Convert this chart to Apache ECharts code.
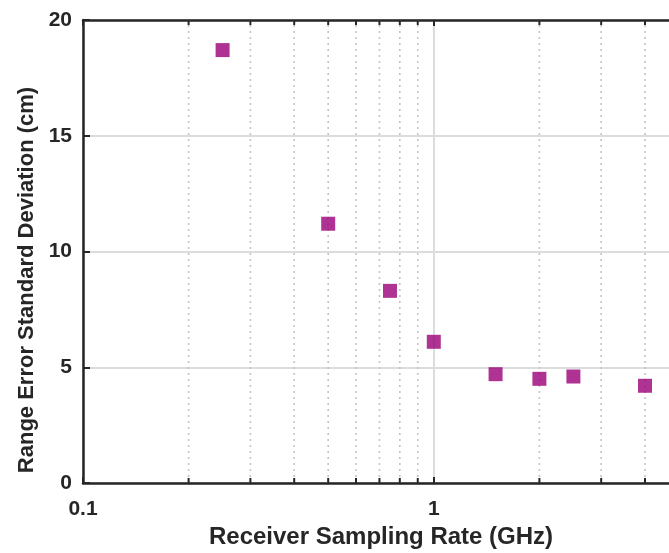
<!DOCTYPE html>
<html><head><meta charset="utf-8">
<script src="https://cdn.jsdelivr.net/npm/echarts@6/dist/echarts.min.js"></script>
<style>html,body{margin:0;padding:0;background:#fff}#c{width:669px;height:553px}</style>
</head><body><div id="c"></div>
<script>
const rates = [0.25, 0.5, 0.75, 1.0, 1.5, 2.0, 2.5, 4.0];
const stdDev = [18.7, 11.2, 8.3, 6.1, 4.7, 4.5, 4.6, 4.2];
const minorXTicks = [0.2, 0.3, 0.4, 0.5, 0.6, 0.7, 0.8, 0.9, 2, 3, 4];
const xTickLabels = ['0.1', '1'];
const yMin = 0, yMax = 20, yStep = 5;
const xMin = 0.1, xMax = 5;

const FONT = '"Liberation Sans", Arial, sans-serif';
const INK = '#262626';
const chart = echarts.init(document.getElementById('c'), null, {renderer: 'canvas'});

const axisCommon = {
  type: 'log', logBase: 10, min: xMin, max: xMax,
  axisLine: {show: true, lineStyle: {color: INK, width: 2.5}},
  axisTick: {show: true, inside: true, length: 6, lineStyle: {color: INK, width: 2}},
  minorTick: {show: false}
};

chart.setOption({
  animation: false,
  grid: {left: 83, top: 20, width: 596, height: 463, containLabel: false, outerBoundsMode: 'none'},
  xAxis: [
    Object.assign({}, axisCommon, {
      position: 'bottom',
      name: 'Receiver Sampling Rate (GHz)',
      nameLocation: 'middle',
      nameGap: 41,
      nameTextStyle: {fontFamily: FONT, fontWeight: 'bold', fontSize: 24, color: INK},
      axisLabel: {
        show: true, margin: 16, fontFamily: FONT, fontWeight: 'bold', fontSize: 21, color: INK,
        formatter: function (v) {
          for (const s of xTickLabels) { if (Math.abs(v - parseFloat(s)) < 1e-9) return s; }
          return '';
        }
      },
      splitLine: {show: true, lineStyle: {color: '#dcdcdc', width: 2}}
    }),
    Object.assign({}, axisCommon, {
      position: 'top',
      axisLabel: {show: false},
      splitLine: {show: false}
    })
  ],
  yAxis: {
    type: 'value', min: yMin, max: yMax, interval: yStep,
    axisLine: {show: true, lineStyle: {color: INK, width: 2.5}},
    axisTick: {show: true, inside: true, length: 7, lineStyle: {color: INK, width: 2}},
    axisLabel: {margin: 11, fontFamily: FONT, fontWeight: 'bold', fontSize: 21, color: INK},
    splitLine: {show: true, lineStyle: {color: '#dcdcdc', width: 2}}
  },
  graphic: [{
    type: 'text', x: 27, y: 280, rotation: Math.PI / 2,
    style: {
      text: 'Range Error Standard Deviation (cm)',
      font: 'bold 22px "Liberation Sans", Arial, sans-serif', fill: INK,
      align: 'center', verticalAlign: 'middle'
    }
  }],
  series: [
    {
      type: 'custom', xAxisIndex: 0, yAxisIndex: 0, silent: true, z: 1,
      data: minorXTicks.map(v => [v, yMin]),
      encode: {x: 0, y: 1},
      renderItem: function (params, api) {
        const x = api.value(0);
        const b = api.coord([x, yMin]);
        const t = api.coord([x, yMax]);
        return {
          type: 'group', children: [
            {type: 'line', shape: {x1: b[0], y1: b[1], x2: t[0], y2: t[1]},
             style: {stroke: '#c4c4c4', lineWidth: 1.6, lineDash: [2, 4]}},
            {type: 'line', shape: {x1: b[0], y1: b[1], x2: b[0], y2: b[1] - 5},
             style: {stroke: INK, lineWidth: 2}},
            {type: 'line', shape: {x1: t[0], y1: t[1], x2: t[0], y2: t[1] + 5},
             style: {stroke: INK, lineWidth: 2}}
          ]
        };
      }
    },
    {
      type: 'scatter', xAxisIndex: 0, yAxisIndex: 0, z: 5,
      symbol: 'rect', symbolSize: 14,
      itemStyle: {color: '#9B0078'},
      data: rates.map((r, i) => [r, stdDev[i]])
    }
  ]
});
</script></body></html>
